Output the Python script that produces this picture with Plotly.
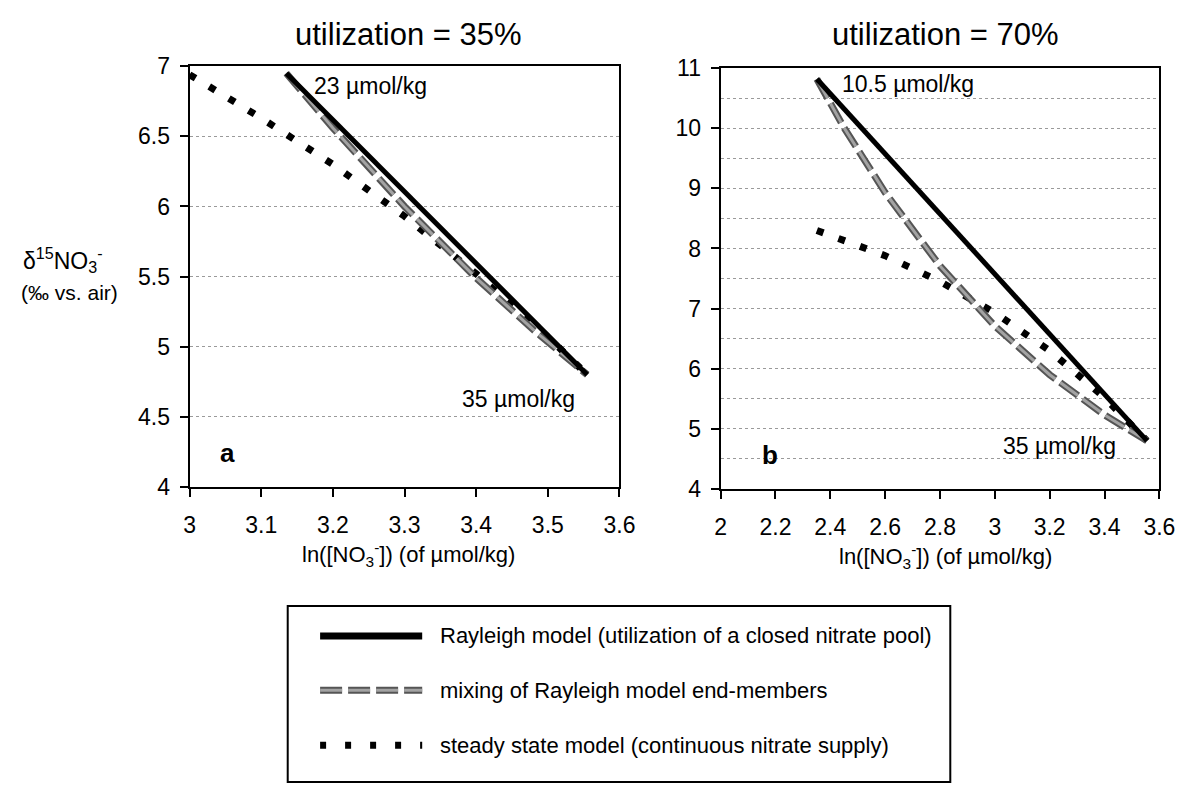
import plotly.graph_objects as go

W, H = 1195, 796
FONT = "Liberation Sans, Arial, Helvetica, sans-serif"

# ---- data ----
# panel a: utilization = 35 %
a_rayleigh_x = [3.135, 3.555]
a_rayleigh_y = [6.95, 4.80]
a_mixing_x = [3.135, 3.2, 3.3, 3.4, 3.48, 3.555]
a_mixing_y = [6.95, 6.56, 6.00, 5.49, 5.12, 4.80]
a_steady_x = [3.0, 3.1, 3.2, 3.3, 3.4, 3.5, 3.555]
a_steady_y = [6.94, 6.63, 6.30, 5.93, 5.52, 5.07, 4.80]

# panel b: utilization = 70 %
b_rayleigh_x = [2.351, 3.555]
b_rayleigh_y = [10.82, 4.80]
b_mixing_x = [2.351, 2.45, 2.6, 2.8, 3.0, 3.2, 3.4, 3.555]
b_mixing_y = [10.82, 10.01, 8.93, 7.71, 6.71, 5.90, 5.23, 4.80]
b_steady_x = [2.351, 2.6, 2.8, 3.0, 3.2, 3.4, 3.555]
b_steady_y = [8.30, 7.88, 7.45, 6.93, 6.30, 5.52, 4.80]

a_xticks = [3, 3.1, 3.2, 3.3, 3.4, 3.5, 3.6]
a_yticks = [4, 4.5, 5, 5.5, 6, 6.5, 7]
b_xticks = [2, 2.2, 2.4, 2.6, 2.8, 3, 3.2, 3.4, 3.6]
b_yticks = [4, 5, 6, 7, 8, 9, 10, 11]

legend_labels = [
    "Rayleigh model (utilization of a closed nitrate pool)",
    "mixing of Rayleigh model end-members",
    "steady state model (continuous nitrate supply)",
]

# ---- styles ----
STEADY = dict(color="black", width=7, dash="7px,16px")
MIX_OUT = dict(color="#555555", width=7, dash="22px,6px")
MIX_IN = dict(color="#a3a3a3", width=3, dash="22px,6px")
RAY = dict(color="black", width=5)

fig = go.Figure()


def add_panel(series, xa, ya):
    (sx, sy), (mx, my), (rx, ry) = series
    for x, y, ln in [(sx, sy, STEADY), (mx, my, MIX_OUT), (mx, my, MIX_IN), (rx, ry, RAY)]:
        fig.add_trace(go.Scatter(x=x, y=y, mode="lines", line=ln,
                                 xaxis=xa, yaxis=ya, showlegend=False, hoverinfo="skip"))


add_panel([(a_steady_x, a_steady_y), (a_mixing_x, a_mixing_y), (a_rayleigh_x, a_rayleigh_y)], "x", "y")
add_panel([(b_steady_x, b_steady_y), (b_mixing_x, b_mixing_y), (b_rayleigh_x, b_rayleigh_y)], "x2", "y2")

axis_common = dict(
    showline=True, linecolor="black", linewidth=2, mirror=True,
    ticks="outside", ticklen=8, tickwidth=2, tickcolor="black",
    tickfont=dict(family=FONT, size=23, color="black"),
    zeroline=False,
)

fig.update_layout(
    width=W, height=H,
    margin=dict(l=0, r=0, t=0, b=0),
    paper_bgcolor="white", plot_bgcolor="white",
    xaxis=dict(axis_common, domain=[187 / W, 625 / W], range=[3, 3.6],
               tickvals=a_xticks, ticktext=[f"{v:g}" for v in a_xticks],
               showgrid=False, anchor="y", ticklabelstandoff=8),
    yaxis=dict(axis_common, domain=[1 - 490 / H, 1 - 55 / H], range=[4, 7],
               tickvals=a_yticks, ticktext=[f"{v:g}" for v in a_yticks],
               showgrid=True, gridcolor="#9a9a9a", gridwidth=1, griddash="dot",
               anchor="x", ticklabelstandoff=5),
    xaxis2=dict(axis_common, domain=[728 / W, 1175 / W], range=[2, 3.6],
                tickvals=b_xticks, ticktext=[f"{v:g}" for v in b_xticks],
                showgrid=False, anchor="y2", ticklabelstandoff=8),
    yaxis2=dict(axis_common, domain=[1 - 492 / H, 1 - 57 / H], range=[4, 11],
                tickvals=b_yticks, ticktext=[f"{v:g}" for v in b_yticks],
                showgrid=True, gridcolor="#9a9a9a", gridwidth=1, griddash="dot",
                minor=dict(dtick=0.5, showgrid=True, gridcolor="#9a9a9a",
                           griddash="dot", gridwidth=1, ticks=""),
                anchor="x2", ticklabelstandoff=5),
)

ann = []


def txt(text, x, y, xref, yref, size, xanchor="center", bold=False):
    ann.append(dict(text=f"<b>{text}</b>" if bold else text, x=x, y=y,
                    xref=xref, yref=yref, showarrow=False, xanchor=xanchor,
                    yanchor="middle", font=dict(family=FONT, size=size, color="black")))


# titles
txt("utilization = 35%", 410 / W, 1 - 22 / H, "paper", "paper", 31)
txt("utilization = 70%", 957 / W, 1 - 22 / H, "paper", "paper", 31)
# x-axis titles
xt = "ln([NO<sub>3</sub><sup>-</sup>]) (of µmol/kg)"
txt(xt, 410 / W, 1 - 560 / H, "paper", "paper", 22)
txt(xt, 957 / W, 1 - 562 / H, "paper", "paper", 22)
# y-axis title
txt("δ<sup>15</sup>NO<sub>3</sub><sup>-</sup>", 58 / W, 1 - 255 / H, "paper", "paper", 23)
txt("(‰ vs. air)", 65 / W, 1 - 289 / H, "paper", "paper", 21)
# in-plot labels
txt("23 µmol/kg", 3.171, 6.86, "x", "y", 23, xanchor="left")
txt("35 µmol/kg", 3.378, 4.63, "x", "y", 23, xanchor="left")
txt("a", 3.053, 4.24, "x", "y", 26, bold=True)
txt("10.5 µmol/kg", 2.437, 10.74, "x2", "y2", 23, xanchor="left")
txt("35 µmol/kg", 3.024, 4.72, "x2", "y2", 23, xanchor="left")
txt("b", 2.18, 4.56, "x2", "y2", 26, bold=True)

# legend (drawn by hand)
shapes = [dict(type="rect", xref="paper", yref="paper",
               x0=287 / W, x1=962 / W, y0=1 - 795 / H, y1=1 - 613 / H,
               line=dict(color="black", width=2), fillcolor="rgba(0,0,0,0)")]
rows_y = [644, 700, 757]
samples = [[dict(RAY, width=7)], [MIX_OUT, MIX_IN], [dict(STEADY, dash="6px,19px")]]
for ry, lab, st in zip(rows_y, legend_labels, samples):
    for s in st:
        shapes.append(dict(type="line", xref="paper", yref="paper",
                           x0=320 / W, x1=424 / W, y0=1 - ry / H, y1=1 - ry / H,
                           line=s))
    txt(lab, 440 / W, 1 - ry / H, "paper", "paper", 22, xanchor="left")

fig.update_layout(annotations=ann, shapes=shapes)
fig.write_html("out.html")
